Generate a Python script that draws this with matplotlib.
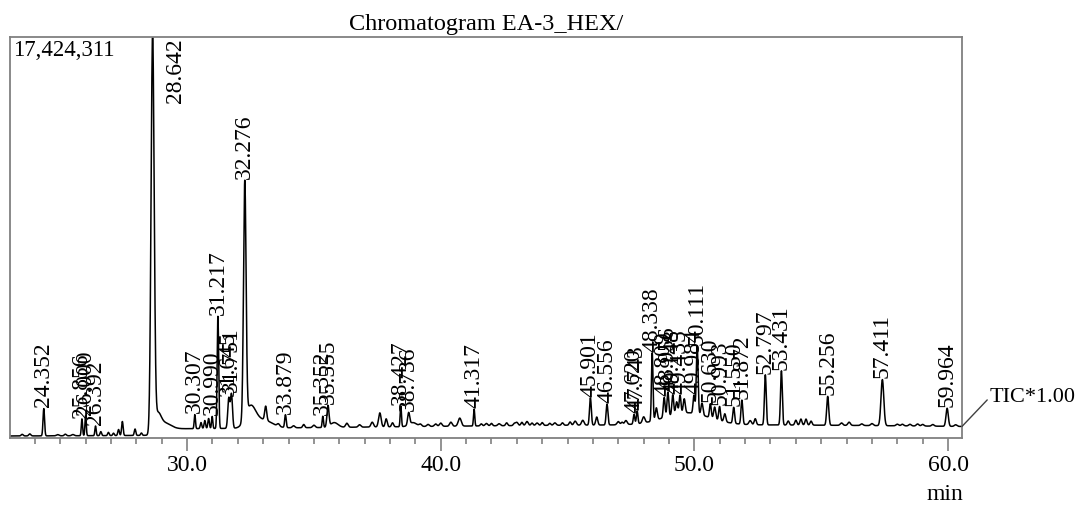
import numpy as np
import matplotlib
matplotlib.use("Agg")
import matplotlib.pyplot as plt
from matplotlib.ticker import MultipleLocator, FixedLocator

plt.rcParams['font.family'] = ['Liberation Serif', 'DejaVu Serif']

# ---------------- data ----------------
title = "Chromatogram EA-3_HEX/"
max_intensity_text = "17,424,311"
trace_name = "TIC*1.00"

# labelled peaks: retention time (min), height above baseline (fraction of full scale), width (sigma, min)
label_rt = [24.352, 25.856, 26.000, 26.392, 28.642, 30.307, 30.990, 31.217, 31.645, 31.751,
            32.276, 33.879, 35.352, 35.555, 38.427, 38.736, 41.317, 45.901, 46.556, 47.620,
            47.743, 48.338, 48.809, 48.956, 49.148, 49.435, 49.984, 50.111, 50.630, 50.993,
            51.550, 51.872, 52.797, 53.431, 55.256, 57.411, 59.964]
label_h = [0.068, 0.042, 0.050, 0.024, 0.995, 0.035, 0.030, 0.280, 0.075, 0.085,
           0.590, 0.032, 0.028, 0.052, 0.052, 0.030, 0.042, 0.068, 0.052, 0.024,
           0.032, 0.170, 0.050, 0.060, 0.050, 0.045, 0.045, 0.170, 0.035, 0.035,
           0.040, 0.060, 0.125, 0.135, 0.072, 0.115, 0.045]
label_w = [0.030, 0.025, 0.025, 0.025, 0.060, 0.025, 0.025, 0.030, 0.040, 0.040,
           0.050, 0.030, 0.025, 0.040, 0.025, 0.040, 0.025, 0.035, 0.035, 0.030,
           0.030, 0.030, 0.035, 0.035, 0.035, 0.035, 0.035, 0.035, 0.035, 0.035,
           0.035, 0.035, 0.035, 0.035, 0.040, 0.055, 0.045]

# unlabelled minor peaks, tails and broad humps
minor_rt = [23.5, 23.8, 25.2, 26.6, 26.9, 27.1, 27.3, 27.45, 27.95, 28.2,
            28.85, 29.1, 30.55, 30.70, 30.85, 32.50, 33.00, 33.10, 34.60, 35.80,
            36.30, 37.30, 37.60, 37.85, 38.10, 38.90, 39.50, 40.00, 40.40, 40.75,
            41.80, 42.30, 43.00, 43.40, 43.80, 44.50, 45.30, 45.60, 46.15, 47.00,
            47.30, 48.00, 48.50, 49.30, 49.60, 49.70, 50.30, 50.80, 51.20, 52.20,
            52.40, 53.70, 54.00, 54.20, 54.40, 54.60, 55.80, 56.10, 58.00, 58.50,
            59.00, 50.00, 33.60, 34.20, 35.00, 36.80, 39.20, 39.80, 41.60, 42.00,
            42.60, 42.90, 43.20, 43.60, 44.00, 44.30, 44.80, 45.10, 47.15, 56.60,
            57.00, 58.20, 58.80, 59.40, 60.30, 24.9, 25.5]
minor_h = [0.004, 0.005, 0.004, 0.010, 0.008, 0.006, 0.015, 0.035, 0.016, 0.006,
           0.032, 0.015, 0.015, 0.020, 0.025, 0.050, 0.020, 0.035, 0.008, 0.012,
           0.010, 0.012, 0.035, 0.020, 0.010, 0.010, 0.005, 0.008, 0.010, 0.020,
           0.006, 0.005, 0.008, 0.010, 0.006, 0.006, 0.010, 0.012, 0.020, 0.008,
           0.010, 0.015, 0.030, 0.030, 0.035, 0.030, 0.030, 0.030, 0.020, 0.010,
           0.015, 0.010, 0.012, 0.015, 0.015, 0.010, 0.006, 0.008, 0.004, 0.004,
           0.004, 0.013, 0.006, 0.005, 0.006, 0.006, 0.005, 0.006, 0.005, 0.006,
           0.007, 0.005, 0.008, 0.006, 0.007, 0.005, 0.006, 0.008, 0.006, 0.004,
           0.005, 0.004, 0.005, 0.004, 0.004, 0.003, 0.003]
minor_w = [0.04, 0.04, 0.04, 0.03, 0.03, 0.03, 0.03, 0.03, 0.03, 0.03,
           0.12, 0.25, 0.03, 0.03, 0.03, 0.20, 0.35, 0.04, 0.04, 0.15,
           0.05, 0.05, 0.05, 0.04, 0.04, 0.15, 0.05, 0.05, 0.05, 0.06,
           0.05, 0.05, 0.05, 0.05, 0.05, 0.05, 0.05, 0.05, 0.04, 0.05,
           0.05, 0.05, 0.04, 0.04, 0.04, 0.90, 0.04, 0.04, 0.04, 0.05,
           0.04, 0.04, 0.04, 0.04, 0.04, 0.04, 0.05, 0.05, 0.05, 0.05,
           0.05, 12.0, 0.05, 0.05, 0.05, 0.05, 0.05, 0.05, 0.04, 0.04,
           0.04, 0.04, 0.04, 0.04, 0.04, 0.04, 0.04, 0.04, 0.04, 0.05,
           0.05, 0.05, 0.05, 0.05, 0.05, 0.05, 0.05]

baseline_before = 0.004   # level before the main peak
baseline_after = 0.020    # level right after the main peak
baseline_step_rt = 28.70

x_min, x_max = 23.02, 60.55
major_ticks = [30.0, 40.0, 50.0, 60.0]
major_tick_labels = ["30.0", "40.0", "50.0", "60.0"]

# ---------------- build trace ----------------
t = np.linspace(x_min, x_max, 6000)
y = np.where(t < baseline_step_rt, baseline_before, baseline_after).astype(float)
for rt, h, w in zip(label_rt + minor_rt, label_h + minor_h, label_w + minor_w):
    y += h * np.exp(-0.5 * ((t - rt) / w) ** 2)
y = np.minimum(y, 1.0)

# ---------------- figure ----------------
W, H = 1083, 505
fig = plt.figure(figsize=(W / 100, H / 100), dpi=100)
ax = fig.add_axes([10 / W, 1 - 438 / H, (962 - 10) / W, (438 - 37) / H])

ax.plot(t, y, color='black', lw=1.1)
ax.set_xlim(x_min, x_max)
ax.set_ylim(0, 1.0)

spine_col = '#808080'
for s in ax.spines.values():
    s.set_color(spine_col)
    s.set_linewidth(1.3)

ax.set_yticks([])
ax.xaxis.set_major_locator(FixedLocator(major_ticks))
ax.set_xticklabels(major_tick_labels)
ax.xaxis.set_minor_locator(MultipleLocator(1.0))
ax.tick_params(axis='x', which='major', length=9, width=1.2, color=spine_col,
               labelsize=17, pad=3, direction='out')
ax.tick_params(axis='x', which='minor', length=4.5, width=1.2, color=spine_col,
               direction='out')

ax.set_title(title, fontsize=17.5, pad=5)

ax.text(0.003, 0.992, max_intensity_text, transform=ax.transAxes,
        ha='left', va='top', fontsize=16.5)

# peak labels
for rt in label_rt:
    txt = f"{rt:.3f}"
    if y[np.argmin(np.abs(t - rt))] >= 0.99:
        ax.text(rt + 0.9, 0.997, txt, rotation=90, ha='center', va='top', fontsize=17)
    else:
        win = np.abs(t - rt) < 0.02
        apex = y[win].max()
        ax.text(rt, apex + 0.003, txt, rotation=90, ha='center', va='bottom', fontsize=17)

# min label
fig.text(945 / W, 1 - 494 / H, "min", ha='center', va='center', fontsize=17)

# trace name with leader line
ax.annotate(trace_name, xy=(x_max, y[-1]), xycoords='data',
            xytext=(990, H - 397), textcoords='figure pixels',
            ha='left', va='center', fontsize=16, annotation_clip=False,
            arrowprops=dict(arrowstyle='-', color='#404040', lw=1.0,
                            shrinkA=0, shrinkB=0, relpos=(0, 0.5)))

fig.savefig("out.png", dpi=100)
